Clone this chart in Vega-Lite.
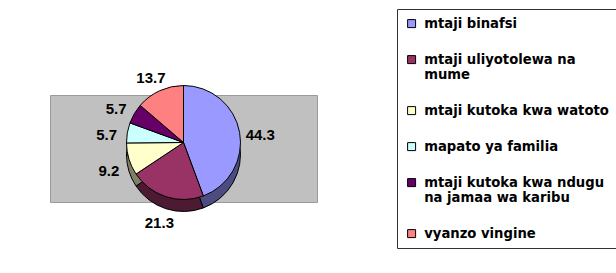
{
  "$schema": "https://vega.github.io/schema/vega-lite/v6.json",
  "autosize": "none",
  "width": 267,
  "height": 107,
  "padding": {"left": 50, "top": 95, "right": 299, "bottom": 71},
  "background": "white",
  "view": {"fill": "#c0c0c0", "stroke": "#9a9a9a"},
  "data": {
    "values": [
      {"source": "mtaji  binafsi", "value": 44.3, "idx": 1},
      {"source": "mtaji uliyotolewa na mume", "value": 21.3, "idx": 2},
      {"source": "mtaji kutoka kwa watoto", "value": 9.2, "idx": 3},
      {"source": "mapato ya familia", "value": 5.7, "idx": 4},
      {"source": "mtaji kutoka kwa ndugu na jamaa wa karibu", "value": 5.7, "idx": 5},
      {"source": "vyanzo vingine", "value": 13.7, "idx": 6}
    ]
  },
  "encoding": {
    "theta": {"field": "value", "type": "quantitative", "stack": true},
    "order": {"field": "idx", "type": "quantitative"}
  },
  "layer": [
    {
      "mark": {"type": "arc", "outerRadius": 57, "yOffset": 6, "stroke": "black", "strokeWidth": 1},
      "encoding": {
        "color": {
          "field": "source",
          "type": "nominal",
          "scale": {
            "domain": ["mtaji  binafsi", "mtaji uliyotolewa na mume", "mtaji kutoka kwa watoto", "mapato ya familia", "mtaji kutoka kwa ndugu na jamaa wa karibu", "vyanzo vingine"],
            "range": ["#4c4c80", "#4c1a33", "#808066", "#668080", "#330033", "#804040"]
          },
          "legend": null
        }
      }
    },
    {
      "mark": {"type": "arc", "outerRadius": 57, "yOffset": -6, "stroke": "black", "strokeWidth": 1},
      "encoding": {
        "color": {
          "field": "source",
          "type": "nominal",
          "scale": {
            "domain": ["mtaji  binafsi", "mtaji uliyotolewa na mume", "mtaji kutoka kwa watoto", "mapato ya familia", "mtaji kutoka kwa ndugu na jamaa wa karibu", "vyanzo vingine"],
            "range": ["#9999ff", "#993366", "#ffffcc", "#ccffff", "#660066", "#ff8080"]
          },
          "legend": {
            "orient": "none",
            "legendX": 347,
            "legendY": -86,
            "title": null,
            "symbolType": "square",
            "symbolSize": 64,
            "symbolStrokeColor": "black",
            "symbolStrokeWidth": 1,
            "labelFont": "DejaVu Sans",
            "labelFontSize": 13.2,
            "labelFontWeight": "bold",
            "labelColor": "black",
            "labelLimit": 300,
            "labelOffset": 6,
            "rowPadding": 22,
            "padding": 8,
            "strokeColor": "#333333",
            "fillColor": "white",
            "labelExpr": "datum.label == 'mtaji uliyotolewa na mume' ? ['mtaji uliyotolewa na', 'mume'] : datum.label == 'mtaji kutoka kwa ndugu na jamaa wa karibu' ? ['mtaji kutoka kwa ndugu', 'na jamaa wa karibu'] : datum.label"
          }
        }
      }
    },
    {
      "mark": {"type": "text", "radius": 78, "font": "Liberation Sans", "fontSize": 15, "fontWeight": "bold", "color": "black"},
      "encoding": {
        "text": {"field": "value", "type": "quantitative", "format": ".1f"}
      }
    }
  ],
  "resolve": {"scale": {"color": "independent"}, "legend": {"color": "independent"}}
}
